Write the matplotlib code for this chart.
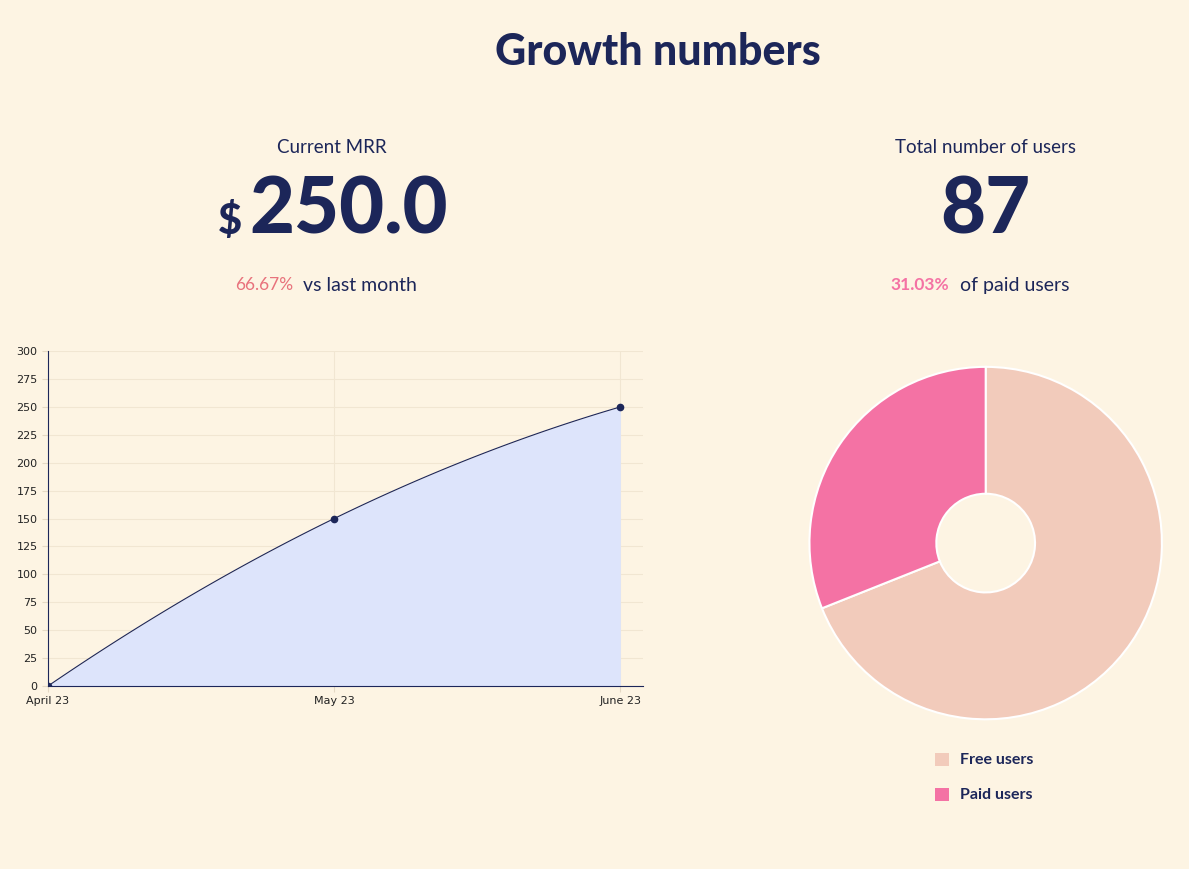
import numpy as np
import matplotlib.pyplot as plt
from matplotlib.patches import Rectangle

months = ["April 23", "May 23", "June 23"]
mrr = [0, 150, 250]
user_labels = ["Free users", "Paid users"]
user_counts = [60, 27]

BG = "#fdf4e3"
NAVY = "#1c2659"
FONT = "Lato"

fig = plt.figure(figsize=(11.89, 8.69), dpi=100, facecolor=BG)

# headline texts
fig.text(0.553, 0.94, "Growth numbers", ha="center", va="center", fontsize=31,
         fontweight="black", color=NAVY, family=FONT)
fig.text(0.279, 0.83, "Current MRR", ha="center", va="center", fontsize=13.5, color=NAVY, family=FONT)
fig.text(0.829, 0.83, "Total number of users", ha="center", va="center", fontsize=13.5, color=NAVY, family=FONT)
fig.text(0.193, 0.745, "$", ha="center", va="center", fontsize=30, fontweight="black", color=NAVY, family=FONT)
fig.text(0.293, 0.757, f"{mrr[-1]:.1f}", ha="center", va="center", fontsize=56, fontweight="black", color=NAVY, family=FONT)
fig.text(0.829, 0.757, str(sum(user_counts)), ha="center", va="center", fontsize=56, fontweight="black", color=NAVY, family=FONT)
growth = (mrr[-1] - mrr[-2]) / mrr[-2] * 100
fig.text(0.247, 0.672, f"{growth:.2f}%", ha="right", va="center", fontsize=12.5, color="#e8727c", family=FONT)
fig.text(0.255, 0.672, "vs last month", ha="left", va="center", fontsize=14, color=NAVY, family=FONT)
paid_pct = user_counts[1] / sum(user_counts) * 100
fig.text(0.798, 0.672, f"{paid_pct:.2f}%", ha="right", va="center", fontsize=12.5, color="#f472a4",
         fontweight="bold", family=FONT)
fig.text(0.807, 0.672, "of paid users", ha="left", va="center", fontsize=14, color=NAVY, family=FONT)

# MRR area chart
ax = fig.add_axes([0.0404, 0.2106, 0.5006, 0.3854], facecolor=BG)
x = np.arange(len(months))
y = np.array(mrr, dtype=float)
# smooth curve: Hermite segments with slopes from a parabola through the points
coef = np.polyfit(x, y, 2)
m = np.polyval(np.polyder(coef), x)
xs, ys = [], []
for i in range(len(x) - 1):
    t = np.linspace(0, 1, 60)
    h00 = 2*t**3 - 3*t**2 + 1; h10 = t**3 - 2*t**2 + t
    h01 = -2*t**3 + 3*t**2; h11 = t**3 - t**2
    xs.append(x[i] + t)
    ys.append(h00*y[i] + h10*m[i] + h01*y[i+1] + h11*m[i+1])
xs = np.concatenate(xs); ys = np.concatenate(ys)
ax.fill_between(xs, ys, 0, color="#dde4fb", lw=0)
ax.plot(xs, ys, color=NAVY, lw=0.8)
ax.plot(x, y, "o", color=NAVY, ms=4.5)
ax.set_xlim(0, 2.08)
ax.set_ylim(0, 300)
ax.set_yticks(range(0, 301, 25))
ax.set_xticks(x)
ax.set_xticklabels(months)
ax.grid(True, color="#f1e6d2", lw=0.8)
ax.set_axisbelow(True)
for s in ["top", "right"]:
    ax.spines[s].set_visible(False)
for s in ["left", "bottom"]:
    ax.spines[s].set_color(NAVY)
    ax.spines[s].set_linewidth(0.8)
ax.tick_params(labelsize=8, length=4, color="#e5d9c4", labelcolor="#222222")

# users donut
pax = fig.add_axes([0.6793, 0.1702, 0.2994, 0.4097])
pax.set_facecolor(BG)
colors = ["#f2cbbb", "#f472a4"]
pax.pie(user_counts, colors=colors, startangle=90, counterclock=False,
        wedgeprops=dict(width=0.72, edgecolor="white", linewidth=1.5))
pax.set_xlim(-1.01, 1.01)
pax.set_ylim(-1.01, 1.01)
pax.set_aspect("equal")

for i, (lab, c) in enumerate(zip(user_labels, colors)):
    yy = 0.126 - i * 0.0403
    fig.patches.append(Rectangle((0.786, yy - 0.008), 0.0118, 0.016, transform=fig.transFigure,
                                 facecolor=c, edgecolor="none"))
    fig.text(0.807, yy, lab, ha="left", va="center", fontsize=11.5, fontweight="bold",
             color=NAVY, family=FONT)

fig.savefig("out.png", dpi=100, facecolor=BG)
